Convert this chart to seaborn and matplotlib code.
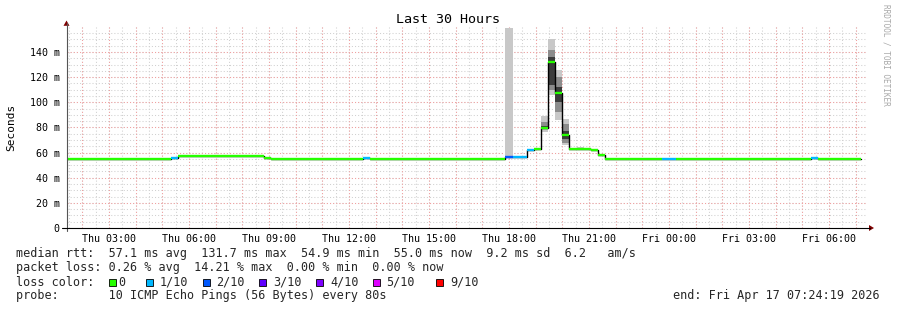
import numpy as np
import pandas as pd
import matplotlib
matplotlib.use("Agg")
import matplotlib.pyplot as plt
import seaborn as sns
from matplotlib.patches import Polygon, Rectangle
from matplotlib.lines import Line2D

# ---------------- data ----------------
first_bin_start = "01:04"     # Thu, RRD bins of 16 minutes (12 x 80 s)
bin_minutes = 16
# median RTT (ms) per 16-minute bin, 15 bins (4 hours) per row
median_ms = [
    # Thu 01:04 - 05:04
    55, 55, 55, 55, 55, 55, 55, 55, 55, 55, 55, 55, 55, 55, 55,
    # Thu 05:04 - 09:04
    55, 55.5, 57, 57, 57, 57, 57, 57, 57, 57, 57, 57, 57, 57, 56,
    # Thu 09:04 - 13:04
    55, 55, 55, 55, 55, 55, 55, 55, 55, 55, 55, 55, 55, 55.5, 55,
    # Thu 13:04 - 17:04
    55, 55, 55, 55, 55, 55, 55, 55, 55, 55, 55, 55, 55, 55, 55,
    # Thu 17:04 - 21:04
    55, 55, 55, 56.5, 56.2, 56.2, 61.8, 63.2, 79.3, 132.0, 107.4, 74.3, 63.2, 63.2, 63.2,
    # Thu 21:04 - Fri 01:04
    62.4, 57.8, 55, 55, 55, 55, 55, 55, 55, 55, 55, 55, 55, 55, 55,
    # Fri 01:04 - 05:04
    55, 55, 55, 55, 55, 55, 55, 55, 55, 55, 55, 55, 55, 55, 55,
    # Fri 05:04 - 07:12
    55, 55.6, 55, 55, 55, 55, 55, 55,
]
# packet loss (tenths) per bin, same layout
loss_tenths = [
    0, 0, 0, 0, 0, 0, 0, 0, 0, 0, 0, 0, 0, 0, 0,
    0, 1, 0, 0, 0, 0, 0, 0, 0, 0, 0, 0, 0, 0, 0,
    0, 0, 0, 0, 0, 0, 0, 0, 0, 0, 0, 0, 0, 1, 0,
    0, 0, 0, 0, 0, 0, 0, 0, 0, 0, 0, 0, 0, 0, 0,
    0, 0, 0, 2, 1, 1, 1, 0, 0, 0, 0, 0, 0, 0, 0,
    0, 0, 0, 0, 0, 0, 0, 0, 0, 0, 1, 1, 0, 0, 0,
    0, 0, 0, 0, 0, 0, 0, 0, 0, 0, 0, 0, 0, 0, 0,
    0, 1, 0, 0, 0, 0, 0, 0,
]
# smoke (ping spread) for the bins where it is visible (Thu)
smoke_start = ["17:52", "19:12", "19:28", "19:44", "20:00", "20:32"]
smoke_min = [56.5, 76.0, 105.6, 86.0, 65.8, 63.2]
smoke_max = [159.0, 89.0, 150.6, 125.4, 86.5, 64.5]
smoke_mid_lo = [56.5, 79.0, 110.0, 92.0, 68.0, 63.2]
smoke_mid_hi = [56.5, 84.4, 142.0, 120.0, 83.0, 63.2]
smoke_in_lo = [56.5, 79.0, 114.0, 100.0, 71.0, 63.2]
smoke_in_hi = [56.5, 81.0, 136.0, 112.0, 77.0, 63.2]

window_start_hour = 1.405     # Thu 01:24:19
window_end_hour = 31.405      # Fri 07:24:19
tick_hours = [3, 6, 9, 12, 15, 18, 21, 24, 27, 30]
tick_labels = ["Thu 03:00", "Thu 06:00", "Thu 09:00", "Thu 12:00", "Thu 15:00",
               "Thu 18:00", "Thu 21:00", "Fri 00:00", "Fri 03:00", "Fri 06:00"]
ytick_values = [0, 20, 40, 60, 80, 100, 120, 140]
ytick_labels = ["0", "20 m", "40 m", "60 m", "80 m", "100 m", "120 m", "140 m"]
y_top = 160

loss_levels = [0, 1, 2, 3, 4, 5, 9]
loss_level_labels = ["0", "1/10", "2/10", "3/10", "4/10", "5/10", "9/10"]
loss_level_colors = ["#26ff00", "#00b8ff", "#0059ff", "#5e00ff", "#7e00ff", "#dd00ff", "#ff0000"]

title = "Last 30 Hours"
ylabel = "Seconds"
line_median = "median rtt:  57.1 ms avg  131.7 ms max  54.9 ms min  55.0 ms now  9.2 ms sd  6.2   am/s"
line_loss = "packet loss: 0.26 % avg  14.21 % max  0.00 % min  0.00 % now"
line_color = "loss color:"
line_probe = "probe:       10 ICMP Echo Pings (56 Bytes) every 80s"
line_end = "end: Fri Apr 17 07:24:19 2026"
watermark = "RRDTOOL / TOBI OETIKER"

# ---------------- figure ----------------
W, H = 897, 310
sns.set_theme(style="white")
plt.rcParams['font.family'] = ['DejaVu Sans Mono', 'DejaVu Sans']
fig = plt.figure(figsize=(W / 100, H / 100), dpi=100)
fig.patch.set_facecolor("white")


def fx(x):
    return x / W


def fy(y):
    return 1 - y / H


def hhmm_to_hours(s):
    h, m = s.split(":")
    return int(h) + int(m) / 60


ax_left, ax_right, ax_top, ax_bottom = 66.5, 866.5, 26.9, 228.0
ax = fig.add_axes([fx(ax_left), fy(ax_bottom), (ax_right - ax_left) / W, (ax_bottom - ax_top) / H])
ax.set_facecolor("white")
ax.set_xlim(window_start_hour, window_end_hour)
ax.set_ylim(0, y_top)
for s in ax.spines.values():
    s.set_visible(False)

# grid
grid_dash = (0, (1, 2))
for v in np.arange(1.5, 31.5, 0.5):
    ax.axvline(v, color="#d0d0d0", lw=0.75, ls=grid_dash, zorder=0)
for v in np.arange(5, y_top, 5):
    ax.axhline(v, color="#d0d0d0", lw=0.75, ls=grid_dash, zorder=0)
for v in np.arange(2, 32, 1):
    ax.axvline(v, color="#f2a0a0", lw=0.75, ls=grid_dash, zorder=0.5)
for v in ytick_values[1:]:
    ax.axhline(v, color="#f2a0a0", lw=0.75, ls=grid_dash, zorder=0.5)

# data frame
bin_h = bin_minutes / 60
n = len(median_ms)
df = pd.DataFrame({
    "start": hhmm_to_hours(first_bin_start) + bin_h * np.arange(n),
    "median": median_ms,
    "loss": loss_tenths,
})
df["end"] = df["start"] + bin_h

# smoke
sm = pd.DataFrame({"start": [hhmm_to_hours(s) for s in smoke_start],
                   "lo": smoke_min, "hi": smoke_max,
                   "mlo": smoke_mid_lo, "mhi": smoke_mid_hi,
                   "ilo": smoke_in_lo, "ihi": smoke_in_hi})
for _, r in sm.iterrows():
    xs = [r.start, r.start + bin_h]
    ax.fill_between(xs, r.lo, r.hi, color="#c8c8c8", lw=0, zorder=1)
    if r.mhi > r.mlo:
        ax.fill_between(xs, r.mlo, r.mhi, color="#8c8c8c", lw=0, zorder=1.1)
    if r.ihi > r.ilo:
        ax.fill_between(xs, r.ilo, r.ihi, color="#3c3c3c", lw=0, zorder=1.2)

# black step line of the median
step = pd.DataFrame({"t": list(df["start"]) + [df["end"].iloc[-1]],
                     "v": list(df["median"]) + [df["median"].iloc[-1]]})
sns.lineplot(data=step, x="t", y="v", drawstyle="steps-post", color="black",
             lw=1.0, ax=ax, zorder=2, estimator=None, sort=False)

# coloured median segments by loss
color_of = dict(zip(loss_levels, loss_level_colors))
seg_colors = [color_of.get(l, loss_level_colors[-1]) for l in df["loss"]]
ax.hlines(df["median"], df["start"], df["end"], colors=seg_colors, lw=1.7, zorder=3)

ax.set_xlabel("")
ax.set_ylabel("")
ax.set_xticks(tick_hours)
ax.set_xticklabels(tick_labels, fontsize=7.2)
ax.set_yticks(ytick_values)
ax.set_yticklabels(ytick_labels, fontsize=7.2)
ax.tick_params(axis="x", length=0, pad=4.2, colors="black")
ax.tick_params(axis="y", length=2.5, width=0.7, pad=2.5, colors="black", direction="out")

# axis lines with arrows
fig.add_artist(Line2D([fx(ax_left), fx(ax_left)], [fy(231), fy(23)], color="#555555", lw=0.8))
fig.add_artist(Line2D([fx(62), fx(870)], [fy(ax_bottom), fy(ax_bottom)], color="black", lw=0.8))
fig.add_artist(Polygon([(fx(63.5), fy(25.8)), (fx(69.5), fy(25.8)), (fx(66.5), fy(20.5))],
                       closed=True, color="#7f0000", lw=0))
fig.add_artist(Polygon([(fx(869), fy(225)), (fx(869), fy(231)), (fx(874), fy(228))],
                       closed=True, color="#7f0000", lw=0))

# texts
fig.text(fx(448), fy(19.5), title, ha="center", va="center", fontsize=9.6, color="black")
fig.text(fx(11), fy(127), ylabel, ha="center", va="center", rotation=90, fontsize=8, color="black")
fig.text(fx(886), fy(4), watermark, ha="center", va="top", rotation=270, fontsize=5.6, color="#a8a8a8")

leg_fs = 8.45
fig.text(fx(16), fy(254), line_median, ha="left", va="center", fontsize=leg_fs)
fig.text(fx(16), fy(268), line_loss, ha="left", va="center", fontsize=leg_fs)
fig.text(fx(16), fy(282), line_color, ha="left", va="center", fontsize=leg_fs)
fig.text(fx(16), fy(296), line_probe, ha="left", va="center", fontsize=leg_fs)
fig.text(fx(880), fy(296), line_end, ha="right", va="center", fontsize=leg_fs)

box_x = [108.5, 146, 202.5, 259, 316, 372.5, 436]
label_x = [118.5, 160, 216.5, 273, 330, 386.5, 450]
for bx, lx, lab, col in zip(box_x, label_x, loss_level_labels, loss_level_colors):
    fig.add_artist(Rectangle((fx(bx), fy(285.5)), 7 / W, 7 / H, facecolor=col,
                             edgecolor="black", lw=0.6))
    fig.text(fx(lx), fy(282), lab, ha="left", va="center", fontsize=leg_fs)

fig.savefig("out.png", dpi=100, facecolor="white")
